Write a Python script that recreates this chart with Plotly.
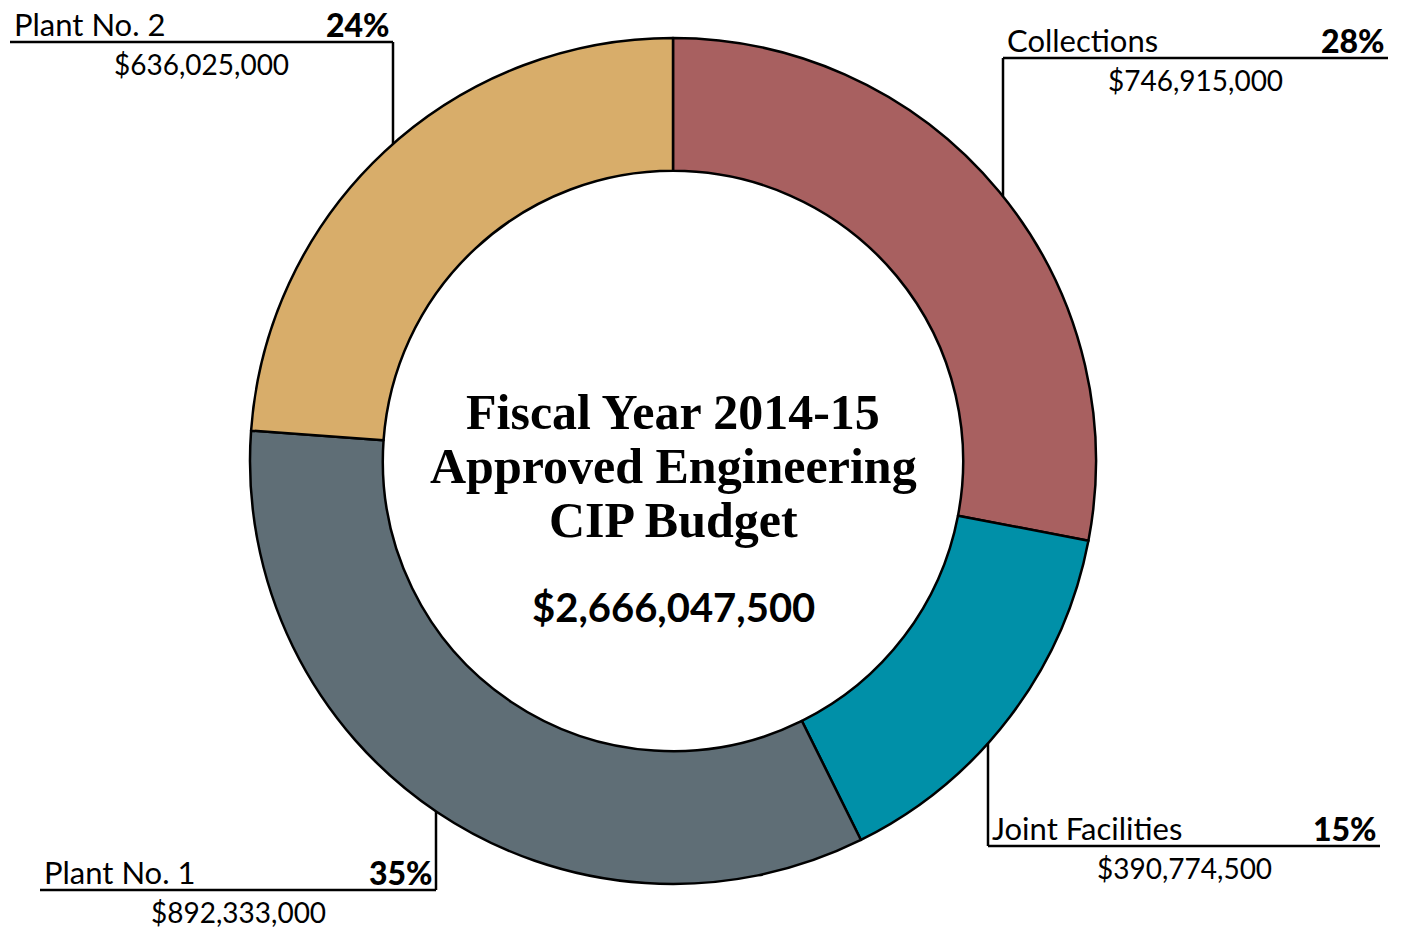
import math
import plotly.graph_objects as go

# Engineering CIP budget by program area (clockwise from 12 o'clock)
segments = ["Collections", "Joint Facilities", "Plant No. 1", "Plant No. 2"]
budget = [746915000, 390774500, 892333000, 636025000]
pct_labels = ["28%", "15%", "35%", "24%"]
colors = ["#A86060", "#0090A8", "#5F6E76", "#D8AD6A"]

title_lines = ["Fiscal Year 2014-15", "Approved Engineering", "CIP Budget"]
total_label = "${:,}".format(sum(budget))

W, H = 1406, 928
CX, CY, R = 673, 461, 423          # donut centre and outer radius (px)
HOLE = 0.686

LABEL_FONT = "Lato"
TITLE_FONT = "Liberation Serif"


def px(x):
    return x / W


def py(y):
    return 1 - y / H


fig = go.Figure()
fig.add_trace(go.Pie(
    labels=segments,
    values=budget,
    sort=False,
    direction="clockwise",
    rotation=0,
    hole=HOLE,
    textinfo="none",
    marker=dict(colors=colors, line=dict(color="black", width=2.5)),
    domain=dict(x=[px(CX - R), px(CX + R)], y=[py(CY + R), py(CY - R)]),
    showlegend=False,
))

# Callout layout per segment: underline y, underline x-extent, elbow x, side of elbow on circle
callouts = {
    "Collections":      dict(line_y=58,  x0=1003, x1=1388, elbow=1003, up=True),
    "Joint Facilities": dict(line_y=846, x0=988,  x1=1380, elbow=988,  up=False),
    "Plant No. 1":      dict(line_y=890, x0=40,   x1=436,  elbow=436,  up=False),
    "Plant No. 2":      dict(line_y=42,  x0=10,   x1=393,  elbow=393,  up=True),
}

shapes = []
annotations = []
for name, value, pct in zip(segments, budget, pct_labels):
    c = callouts[name]
    ly = c["line_y"]
    # underline
    shapes.append(dict(type="line", xref="paper", yref="paper",
                       x0=px(c["x0"]), x1=px(c["x1"]), y0=py(ly), y1=py(ly),
                       line=dict(color="black", width=2.5)))
    # vertical leader to the outer edge of the ring
    dx = c["elbow"] - CX
    dy = math.sqrt(R * R - dx * dx)
    ring_y = CY - dy if c["up"] else CY + dy
    shapes.append(dict(type="line", xref="paper", yref="paper",
                       x0=px(c["elbow"]), x1=px(c["elbow"]),
                       y0=py(ly), y1=py(ring_y),
                       line=dict(color="black", width=2.5)))
    # segment name, left aligned above the underline
    annotations.append(dict(text=name, xref="paper", yref="paper",
                            x=px(c["x0"] + 2), y=py(ly + 3),
                            xanchor="left", yanchor="bottom", showarrow=False,
                            font=dict(family=LABEL_FONT, size=31, color="black")))
    # percentage, right aligned above the underline
    annotations.append(dict(text=pct, xref="paper", yref="paper",
                            x=px(c["x1"] - 1), y=py(ly + 4),
                            xanchor="right", yanchor="bottom", showarrow=False,
                            font=dict(family=LABEL_FONT, size=32, color="black",
                                      weight=900)))
    # dollar amount, centred below the underline
    annotations.append(dict(text="${:,}".format(value), xref="paper", yref="paper",
                            x=px((c["x0"] + c["x1"]) / 2), y=py(ly + 3),
                            xanchor="center", yanchor="top", showarrow=False,
                            font=dict(family=LABEL_FONT, size=28, color="black")))

# centre title, one annotation per line for tight leading
for i, line in enumerate(title_lines):
    annotations.append(dict(text="<b>" + line + "</b>",
                            xref="paper", yref="paper", x=px(CX), y=py(412 + 54 * i),
                            xanchor="center", yanchor="middle", showarrow=False,
                            font=dict(family=TITLE_FONT, size=50, color="black")))
annotations.append(dict(text="<b>" + total_label + "</b>",
                        xref="paper", yref="paper", x=px(CX), y=py(607),
                        xanchor="center", yanchor="middle", showarrow=False,
                        font=dict(family=LABEL_FONT, size=40, color="black")))

fig.update_layout(
    width=W, height=H, autosize=False,
    margin=dict(l=0, r=0, t=0, b=0),
    paper_bgcolor="white", plot_bgcolor="white",
    shapes=shapes, annotations=annotations,
)

fig.write_html("out.html")
